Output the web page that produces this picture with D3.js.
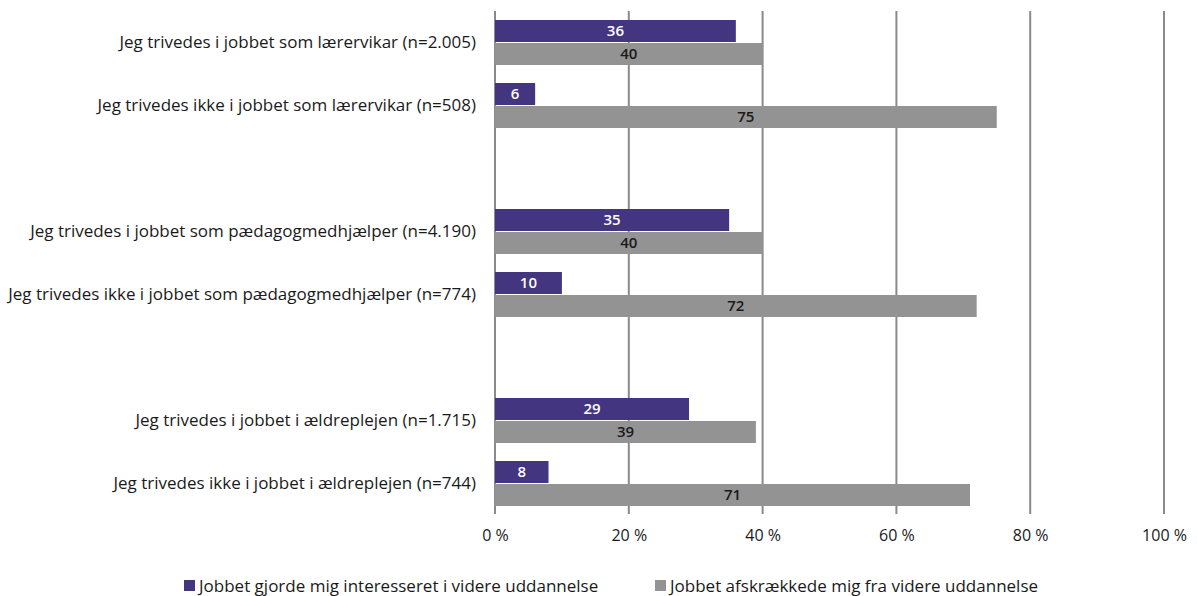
<!DOCTYPE html>
<html><head><meta charset="utf-8">
<script src="https://cdn.jsdelivr.net/npm/d3@7"></script>
<style>body{margin:0;background:#fff;} text{font-family:"Open Sans",sans-serif;}</style>
</head><body><svg id="c" width="1197" height="596"></svg>
<script>
const categories = [
  "Jeg trivedes i jobbet som lærervikar (n=2.005)",
  "Jeg trivedes ikke i jobbet som lærervikar (n=508)",
  "",
  "Jeg trivedes i jobbet som pædagogmedhjælper (n=4.190)",
  "Jeg trivedes ikke i jobbet som pædagogmedhjælper (n=774)",
  " ",
  "Jeg trivedes i jobbet i ældreplejen (n=1.715)",
  "Jeg trivedes ikke i jobbet i ældreplejen (n=744)"
];
const seriesNames = ["Jobbet gjorde mig interesseret i videre uddannelse", "Jobbet afskrækkede mig fra videre uddannelse"];
const interested = [36, 6, null, 35, 10, null, 29, 8];
const deterred = [40, 75, null, 40, 72, null, 39, 71];
const ticks = [0, 20, 40, 60, 80, 100];

const FONT = '"Open Sans",sans-serif';
const svg = d3.select("#c");
const x = d3.scaleLinear().domain([0, 100]).range([495, 1164]);
const y = d3.scaleBand().domain(categories).range([11, 515]).paddingInner(0).paddingOuter(0);
const colors = ["#43357f", "#939393"];

svg.append("g").selectAll("line").data(ticks).join("line")
  .attr("x1", d => x(d)).attr("x2", d => x(d))
  .attr("y1", 11).attr("y2", 514)
  .attr("stroke", "#8a8a8a").attr("stroke-width", 2);

const barH = 22;
const series = [interested, deterred];
series.forEach((vals, si) => {
  const g = svg.append("g");
  const data = categories.map((c, i) => ({c, v: vals[i]})).filter(d => d.v != null);
  g.selectAll("rect").data(data).join("rect")
    .attr("x", x(0)).attr("width", d => x(d.v) - x(0))
    .attr("y", d => y(d.c) + y.bandwidth()/2 - barH + si*barH + (si? 0.5 : -0.5))
    .attr("height", barH)
    .attr("fill", colors[si]);
  g.selectAll("text").data(data).join("text")
    .attr("x", d => (x(d.v) + x(0)) / 2)
    .attr("y", d => y(d.c) + y.bandwidth()/2 - barH/2 + si*barH + (si?0.5:-0.5))
    .attr("dy", "0.35em").attr("text-anchor", "middle")
    .attr("font-size", 15).attr("font-weight", 600)
    .attr("fill", si ? "#1a1a1a" : "#ffffff")
    .text(d => d.v);
});

svg.append("g").selectAll("text").data(categories.filter(c => c.trim())).join("text")
  .attr("x", 476).attr("y", d => y(d) + y.bandwidth()/2)
  .attr("dy", "0.35em").attr("text-anchor", "end")
  .attr("font-size", 17).attr("fill", "#1a1a1a").text(d => d);

const ax = svg.append("g").attr("transform", "translate(0,514)")
  .call(d3.axisBottom(x).tickValues(ticks).tickFormat(d => d + " %").tickSize(0).tickPadding(16));
ax.select(".domain").remove();
ax.selectAll("text").attr("font-size", 16).attr("fill", "#1a1a1a").style("font-family", FONT);

const leg = [{x: 184}, {x: 655}];
leg.forEach((l, i) => {
  svg.append("rect").attr("x", l.x).attr("y", 580).attr("width", 11).attr("height", 11).attr("fill", colors[i]);
  svg.append("text").attr("x", l.x + 15).attr("y", 586).attr("dy", "0.35em")
    .attr("font-size", 17).attr("fill", "#1a1a1a").text(seriesNames[i]);
});
</script></body></html>
